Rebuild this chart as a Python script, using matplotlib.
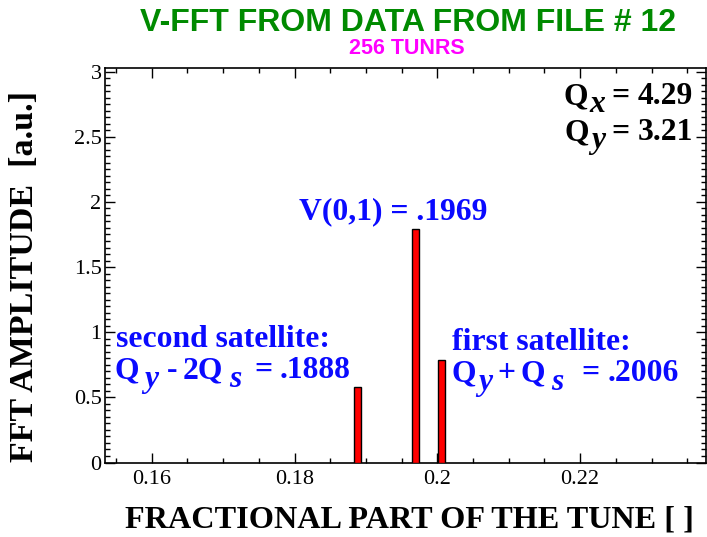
import matplotlib
matplotlib.use("Agg")
import matplotlib.pyplot as plt
from matplotlib.ticker import MultipleLocator

# FFT peaks: fractional tune and amplitude
tune = [0.1888, 0.1969, 0.2006]
amplitude = [0.58, 1.79, 0.79]
bar_width = 0.00094

tune_x_label = "4.29"
tune_y_label = "3.21"

W, H = 707, 537
SERIF = "Liberation Serif"
SANS = "Liberation Sans"
BLUE = "#0a0aff"

fig = plt.figure(figsize=(W / 100, H / 100), dpi=100)
ax = fig.add_axes([105 / W, 74.5 / H, (706 - 105) / W, (462.5 - 67.7) / H])

ax.bar(tune, amplitude, width=bar_width, color="#ff0000",
       edgecolor="black", linewidth=1.0, align="center", zorder=3)

ax.set_xlim(0.15346, 0.23763)
ax.set_ylim(0, 3.03)

ax.xaxis.set_major_locator(MultipleLocator(0.02))
ax.xaxis.set_minor_locator(MultipleLocator(0.005))
ax.yaxis.set_major_locator(MultipleLocator(0.5))
ax.yaxis.set_minor_locator(MultipleLocator(0.05))
ax.xaxis.set_major_formatter(lambda v, p: f"{v:g}")
ax.yaxis.set_major_formatter(lambda v, p: f"{v:g}")

ax.tick_params(which="both", direction="in", top=True, right=True,
               width=1.0, colors="black")
ax.tick_params(which="major", length=7.5)
ax.tick_params(which="minor", length=3.6)
ax.tick_params(axis="x", which="major", pad=5.5, labelsize=16)
ax.tick_params(axis="y", which="major", pad=2.5, labelsize=16)
for lab in ax.get_xticklabels() + ax.get_yticklabels():
    lab.set_fontfamily(SERIF)
for sp in ax.spines.values():
    sp.set_linewidth(1.2)


def fx(px):
    return px / W


def fy(py):
    return (H - py) / H


# Titles
fig.text(fx(408), fy(31), "V-FFT FROM DATA FROM FILE # 12", ha="center",
         va="baseline", family=SANS, weight="bold", size=23, color="#008a00")
fig.text(fx(407), fy(54), "256 TUNRS", ha="center", va="baseline",
         family=SANS, weight="bold", size=15.5, color="#ff00ff")

# Axis labels
fig.text(fx(409), fy(528), "FRACTIONAL PART OF THE TUNE [ ]", ha="center",
         va="baseline", family=SERIF, weight="bold", size=23.2, color="black")
fig.text(fx(25), fy(276), "FFT AMPLITUDE  [a.u.]", ha="center", va="center",
         rotation=90, family=SERIF, weight="bold", size=24.5, color="black")

renderer = fig.canvas.get_renderer()


def rich(x, y, pieces, color, size=22.8, align="left"):
    """Lay out text pieces side by side; each piece is (text, italic, drop_px, gap_px)."""
    items = []
    cx = x
    for s, italic, drop, gap in pieces:
        cx += gap
        t = fig.text(fx(cx), fy(y + drop), s, ha="left", va="baseline",
                     family=SERIF, weight="bold",
                     style="italic" if italic else "normal",
                     size=size, color=color)
        w = t.get_window_extent(renderer).width
        items.append(t)
        cx += w
    if align == "right":
        shift = x - cx
        for t in items:
            px, py = t.get_position()
            t.set_position((px + shift / W, py))
    return items


def short(v):
    return f"{v:.4f}".lstrip("0")


rich(299, 219, [(f"V(0,1) = {short(tune[1])}", False, 0, 0)], BLUE)

rich(116, 347, [("second satellite:", False, 0, 0)], BLUE)
rich(115, 378, [("Q", False, 0, 0), ("y", True, 9, 5), ("-", False, 0, 8),
                ("2Q", False, 0, 6), ("s", True, 9, 6), ("=", False, 0, 13),
                (short(tune[0]), False, 0, 7)], BLUE)

rich(452, 350, [("first satellite:", False, 0, 0)], BLUE)
rich(451, 381, [("Q", False, 0, 0), ("y", True, 9, 3), ("+", False, 0, 5),
                ("Q", False, 0, 5), ("s", True, 9, 6), ("=", False, 0, 18),
                (short(tune[2]), False, 0, 8)], BLUE)

# Machine tunes
rich(693, 104, [("Q", False, 0, 0), ("x", True, 8, 2), ("=", False, 0, 6),
                (tune_x_label, False, 0, 8)], "black", align="right")
rich(693, 140, [("Q", False, 0, 0), ("y", True, 8, 2), ("=", False, 0, 6),
                (tune_y_label, False, 0, 8)], "black", align="right")

fig.savefig("out.png", dpi=100)
